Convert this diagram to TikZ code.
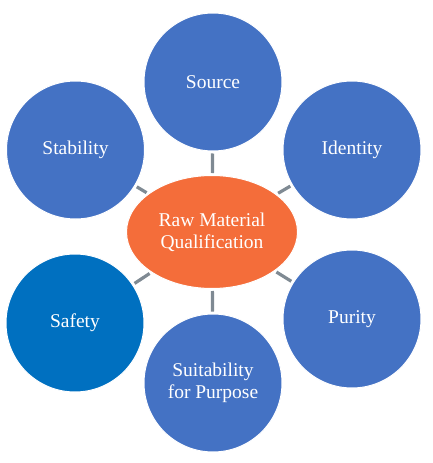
\documentclass[tikz,border=0pt]{standalone}
\usepackage{fontspec}
\setmainfont{Liberation Serif}
\usetikzlibrary{shapes.geometric}
\definecolor{cblue}{HTML}{4472C4}
\definecolor{cdark}{HTML}{0070C0}
\definecolor{corange}{HTML}{F46D3A}
\definecolor{cgray}{HTML}{7F8A93}
\tikzset{
  bubble/.style={circle, fill=cblue, draw=white, line width=1pt, minimum size=138pt, inner sep=0pt,
    text=white, font=\fontsize{19.5}{22}\selectfont, align=center},
  hub/.style={ellipse, fill=corange, draw=white, line width=1pt, minimum width=171pt, minimum height=113pt, inner sep=0pt,
    text=white, font=\fontsize{19.5}{22}\selectfont, align=center},
  conn/.style={draw=cgray, line width=3.2pt, shorten <=2pt, shorten >=2pt}
}
\begin{document}
\begin{tikzpicture}[x=1pt,y=-1pt]
\useasboundingbox (0,0) rectangle (432,463);
\node[hub] (rm) at (212,232) {Raw Material\\Qualification};
\node[bubble] (src) at (213,82) {Source};
\node[bubble] (stab) at (75.5,150) {Stability};
\node[bubble] (iden) at (352,150) {Identity};
\node[bubble, fill=cdark] (safe) at (75,323) {Safety};
\node[bubble] (suit) at (213,383) {Suitability\\for Purpose};
\node[bubble] (pur) at (352,319) {Purity};
\foreach \n in {src,stab,iden,safe,suit,pur}
  \draw[conn] (rm) -- (\n);
\end{tikzpicture}
\end{document}
